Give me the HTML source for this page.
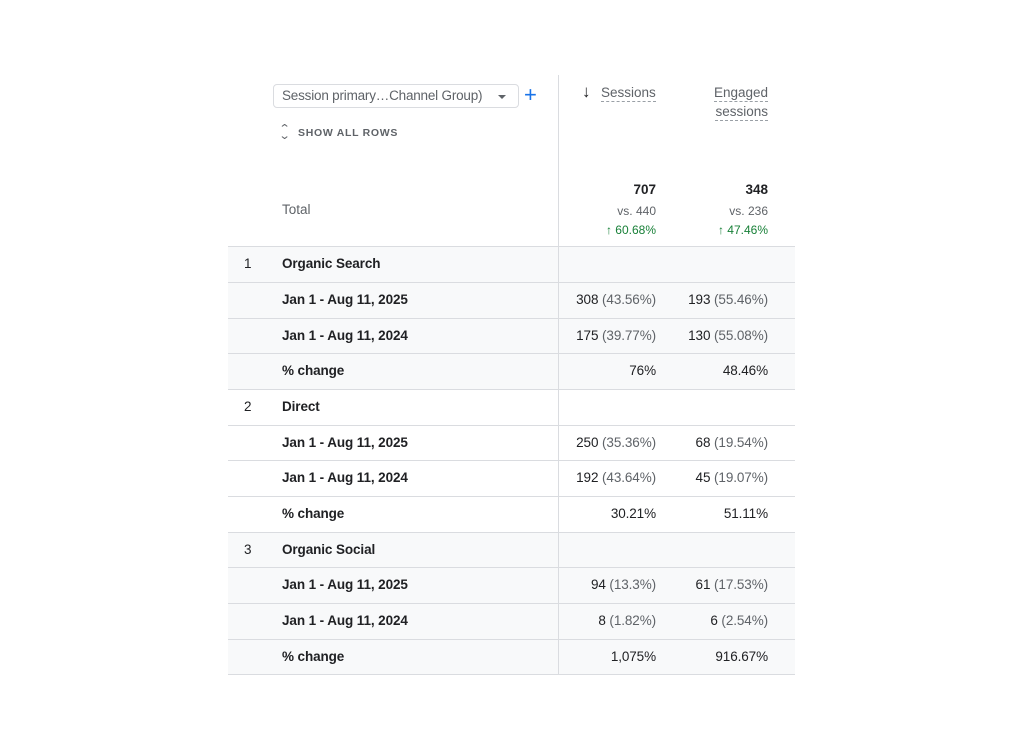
<!DOCTYPE html>
<html><head><style>
body{margin:0;width:1024px;height:750px;background:#fff;font-family:"Liberation Sans",Arial,sans-serif;position:relative;overflow:hidden;color:#202124}
.a{position:absolute;white-space:nowrap}
.r{text-align:right}
.row{position:absolute;left:228px;width:567px;box-sizing:border-box;border-bottom:1px solid #dadce0}
.g{background:#f8f9fa}
.lbl{position:absolute;left:54px;top:9px;font-size:13.5px;font-weight:bold;color:#202124;letter-spacing:-0.1px}
.num{position:absolute;left:16px;top:9px;font-size:13.5px;color:#202124}
.v1{position:absolute;right:139px;top:9px;font-size:13.5px;letter-spacing:-0.1px}
.v2{position:absolute;right:27px;top:9px;font-size:13.5px;letter-spacing:-0.1px}
.p{color:#5f6368}
</style></head><body>
<div class="a" style="left:558px;top:75px;width:1px;height:599px;background:#dadce0;z-index:2"></div>
<div class="a" style="left:273px;top:84px;width:244px;height:22px;border:1px solid #dadce0;border-radius:4px"></div>
<div class="a" style="left:282px;top:88px;font-size:13.5px;color:#5f6368;letter-spacing:-0.2px">Session primary…Channel Group)</div>
<div class="a" style="left:498px;top:95px;width:0;height:0;border-left:4px solid transparent;border-right:4px solid transparent;border-top:4px solid #5f6368"></div>
<div class="a" style="left:524px;top:82px;font-size:22px;color:#1a73e8">+</div>
<div class="a" style="left:280px;top:122px;font-size:11px;color:#5f6368;transform:scaleX(1.3)">⌃</div>
<div class="a" style="left:280px;top:129px;font-size:11px;color:#5f6368;transform:scaleX(1.3)">⌄</div>
<div class="a" style="left:298px;top:127px;font-size:10.5px;font-weight:bold;letter-spacing:0.7px;color:#5f6368">SHOW ALL ROWS</div>
<div class="a" style="left:582px;top:82px;font-size:17px;font-weight:bold;color:#202124">↓</div>
<div class="a" style="left:601px;top:85px;font-size:13.5px;color:#5f6368;border-bottom:1px dashed #9aa0a6;line-height:16px">Sessions</div>
<div class="a r" style="right:256px;top:85px;font-size:13.5px;color:#5f6368;border-bottom:1px dashed #9aa0a6;line-height:16px">Engaged</div>
<div class="a r" style="right:256px;top:104px;font-size:13.5px;color:#5f6368;border-bottom:1px dashed #9aa0a6;line-height:16px">sessions</div>
<div class="a" style="left:282px;top:202px;font-size:13.5px;color:#5f6368">Total</div>
<div class="a r" style="right:368px;top:182px;font-size:13.5px;font-weight:bold">707</div>
<div class="a r" style="right:256px;top:182px;font-size:13.5px;font-weight:bold">348</div>
<div class="a r" style="right:368px;top:204px;font-size:12px;color:#5f6368">vs. 440</div>
<div class="a r" style="right:256px;top:204px;font-size:12px;color:#5f6368">vs. 236</div>
<div class="a r" style="right:368px;top:223px;font-size:12px;color:#188038">↑ 60.68%</div>
<div class="a r" style="right:256px;top:223px;font-size:12px;color:#188038">↑ 47.46%</div>
<div class="row" style="top:210px;height:37px;background:transparent"></div>

<div class="row g" style="top:247px;height:36px"><span class="num">1</span><span class="lbl">Organic Search</span></div>
<div class="row g" style="top:283px;height:36px"><span class="lbl">Jan 1 - Aug 11, 2025</span><span class="v1">308 <span class="p">(43.56%)</span></span><span class="v2">193 <span class="p">(55.46%)</span></span></div>
<div class="row g" style="top:319px;height:35px"><span class="lbl">Jan 1 - Aug 11, 2024</span><span class="v1">175 <span class="p">(39.77%)</span></span><span class="v2">130 <span class="p">(55.08%)</span></span></div>
<div class="row g" style="top:354px;height:36px"><span class="lbl">% change</span><span class="v1">76%</span><span class="v2">48.46%</span></div>
<div class="row" style="top:390px;height:36px"><span class="num">2</span><span class="lbl">Direct</span></div>
<div class="row" style="top:426px;height:35px"><span class="lbl">Jan 1 - Aug 11, 2025</span><span class="v1">250 <span class="p">(35.36%)</span></span><span class="v2">68 <span class="p">(19.54%)</span></span></div>
<div class="row" style="top:461px;height:36px"><span class="lbl">Jan 1 - Aug 11, 2024</span><span class="v1">192 <span class="p">(43.64%)</span></span><span class="v2">45 <span class="p">(19.07%)</span></span></div>
<div class="row" style="top:497px;height:36px"><span class="lbl">% change</span><span class="v1">30.21%</span><span class="v2">51.11%</span></div>
<div class="row g" style="top:533px;height:35px"><span class="num">3</span><span class="lbl">Organic Social</span></div>
<div class="row g" style="top:568px;height:36px"><span class="lbl">Jan 1 - Aug 11, 2025</span><span class="v1">94 <span class="p">(13.3%)</span></span><span class="v2">61 <span class="p">(17.53%)</span></span></div>
<div class="row g" style="top:604px;height:36px"><span class="lbl">Jan 1 - Aug 11, 2024</span><span class="v1">8 <span class="p">(1.82%)</span></span><span class="v2">6 <span class="p">(2.54%)</span></span></div>
<div class="row g" style="top:640px;height:35px"><span class="lbl">% change</span><span class="v1">1,075%</span><span class="v2">916.67%</span></div>
</body></html>
